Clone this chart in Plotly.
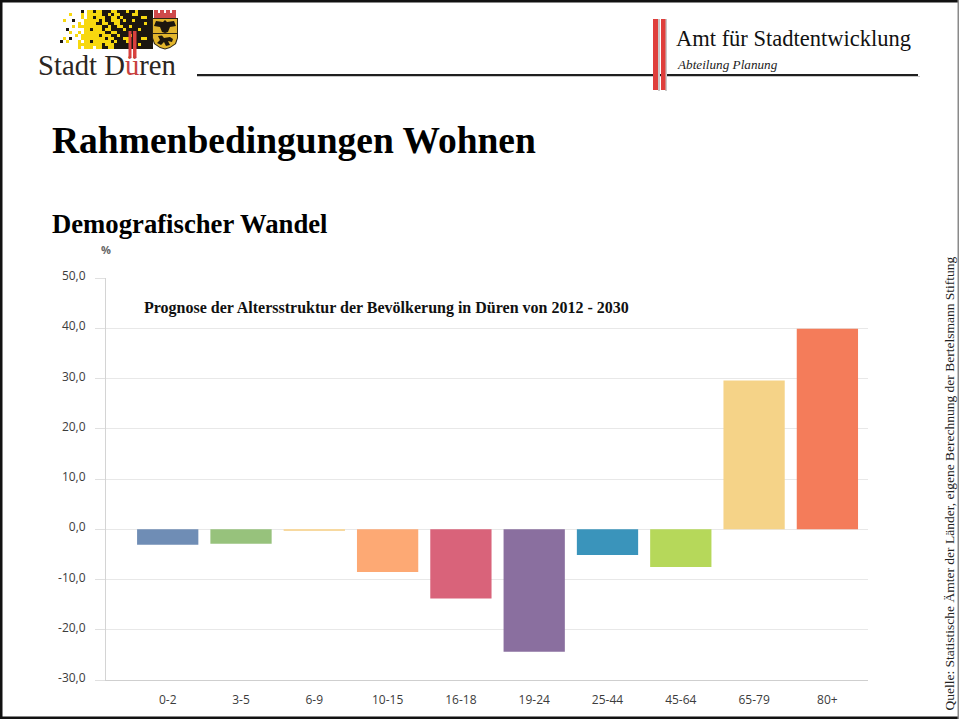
import plotly.graph_objects as go

# ---- data ----
categories = ["0-2", "3-5", "6-9", "10-15", "16-18", "19-24", "25-44", "45-64", "65-79", "80+"]
values = [-3.1, -2.9, -0.2, -8.5, -13.8, -24.4, -5.1, -7.5, 29.6, 39.9]
bar_colors = ["#6f8db5", "#97c27c", "#f7d9a0", "#fda974", "#d9637a", "#8a6f9f",
              "#3a94bb", "#b6d85a", "#f5d388", "#f47c5a"]
y_ticks = [50, 40, 30, 20, 10, 0, -10, -20, -30]
y_tick_labels = ["50,0", "40,0", "30,0", "20,0", "10,0", "0,0", "-10,0", "-20,0", "-30,0"]

W, H = 959, 719
L, R, T, B = 106, 868, 278, 680

def px(x):
    return (x - L) / (R - L)

def py(y):
    return (B - y) / (B - T)

def rect(x0, y0, x1, y1, color, layer="above"):
    return dict(type="rect", xref="paper", yref="paper", x0=px(x0), x1=px(x1),
                y0=py(y0), y1=py(y1), fillcolor=color, line_width=0, layer=layer)

def poly(points, color):
    d = "M" + " L".join(f"{px(a):.5f},{py(b):.5f}" for a, b in points) + " Z"
    return dict(type="path", xref="paper", yref="paper", path=d, fillcolor=color, line_width=0)

def label(x, y, text, size, color="#000000", family="Liberation Serif", xanchor="left",
          yanchor="middle", angle=0):
    return dict(xref="paper", yref="paper", x=px(x), y=py(y), text=text, showarrow=False,
                xanchor=xanchor, yanchor=yanchor, textangle=angle,
                font=dict(family=family, size=size, color=color), borderpad=0, borderwidth=0)

# ---- logo mosaic, one letter per 3 px cell: y yellow, k black, . empty ----
logo_rows = [
    ".......k.yykyykkkyykkkykkykkkkk",
    "...y...y.yyyyykkykyykkkkyykkkkk",
    ".......y.yykyyykkyykykkkkkkyykk",
    ".y..k...yyyyykykkyyykykkykkkkkk",
    "......y.yyyykkyykkyykkkkkkkkykk",
    "....y.yyyyyyyykkykkyykkykkkkkkk",
    "..k.....yykyyykyykkkkykkkkykkkk",
    "...y..y.yyyyyyykkyykkkkkkkkkkkk",
    ".....y.yyyyyykyyykkykkkykkkkkkk",
    ".y.k...yyyyyyyykyykkkyykkkkyykk",
    "k.y...y.yykyyyyyykykkkykkkkkkkk",
    "......yyyyyyyykyyykkkkkkkkykkkk",
    "......y.yyy.yykkyykkkkkkkkkkkkk",
]
cell_colors = {"y": "#f7d80f", "k": "#1c1710"}
shapes = []
for r, row in enumerate(logo_rows):
    for c, ch in enumerate(row):
        if ch in cell_colors:
            shapes.append(rect(60 + c * 3, 10 + r * 3, 63 + c * 3, 13 + r * 3, cell_colors[ch]))

shapes += [
    # crest
    rect(154, 13, 176, 18.5, "#cf4a4a"),
    rect(154, 10, 158, 14, "#cf4a4a"),
    rect(160, 10, 164, 14, "#cf4a4a"),
    rect(166, 10, 170, 14, "#cf4a4a"),
    rect(172, 10, 176, 14, "#cf4a4a"),
    # shield
    poly([(152, 18), (178, 18), (178, 38), (176, 44), (170, 48), (165, 49.5),
          (160, 48), (154, 44), (152, 38)], "#2b2414"),
    poly([(153, 19), (177, 19), (177, 38), (175, 43.5), (170, 47), (165, 48.5),
          (160, 47), (155, 43.5), (153, 38)], "#e2b52c"),
    # eagle
    poly([(165, 20), (167, 22), (174, 21), (176, 26), (170, 27), (168, 32), (165, 33),
          (162, 32), (160, 27), (154, 26), (156, 21), (163, 22)], "#1d170e"),
    rect(153, 33, 177, 34, "#2b2414"),
    # lion
    poly([(158, 36), (162, 35.5), (164, 38), (170, 37), (173, 39), (172, 42), (168, 41),
          (170, 45), (166, 46), (164, 42), (161, 45), (157, 43), (160, 40)], "#1d170e"),
    # red bars above the u
    rect(128.5, 31, 131.5, 58, "#d9413f"),
    rect(133, 31, 136.5, 58, "#d9413f"),
    # header rule and red bars
    rect(197, 74, 918, 76, "#1f1f1f"),
    rect(197, 76, 920, 77, "#c8c8c8"),
    rect(658, 19, 660, 91, "#c9c9c9"),
    rect(665, 19, 667, 91, "#c9c9c9"),
    rect(653, 19, 658, 90, "#df3f3c"),
    rect(661, 19, 665.5, 90, "#df3f3c"),
    # page frame
    rect(0, 0, 959, 2.5, "#111111"),
    rect(0, 716.5, 959, 719, "#111111"),
    rect(0, 0, 2.5, 719, "#111111"),
    rect(957.5, 0, 959, 719, "#8a8a8a"),
]

annotations = [
    label(38, 65, 'Stadt D<span style="color:#c8413f">ü</span>ren', 28.7, "#2b2622"),
    label(676, 38, "Amt für Stadtentwicklung", 22.5, "#111111"),
    label(677, 65, "<i>Abteilung Planung</i>", 13.2, "#222222"),
    label(52, 141, "<b>Rahmenbedingungen Wohnen</b>", 37.5),
    label(52, 224, "<b>Demografischer Wandel</b>", 26.7),
    label(144, 308, "<b>Prognose der Altersstruktur der Bevölkerung in Düren von 2012 - 2030</b>", 16, "#111111"),
    label(105.5, 249, "<b>%</b>", 11, "#666666", "Open Sans", xanchor="center"),
    label(949, 483.5, "Quelle: Statistische Ämter der Länder, eigene Berechnung der Bertelsmann Stiftung",
          13.5, "#222222", xanchor="center", angle=-90),
]

fig = go.Figure(go.Bar(x=categories, y=values, marker=dict(color=bar_colors, line_width=0),
                       width=0.836, hoverinfo="skip"))
fig.update_layout(
    width=W, height=H, margin=dict(l=L, r=W - R, t=T, b=H - B, pad=0, autoexpand=False),
    paper_bgcolor="white", plot_bgcolor="white", showlegend=False,
    shapes=shapes, annotations=annotations,
)
fig.update_xaxes(type="category", range=[-0.842, 9.554], showgrid=False, zeroline=False,
                 showline=True, linecolor="#cfcfcf", linewidth=1, ticks="", ticklabelstandoff=9,
                 tickfont=dict(family="Open Sans", size=12, color="#3c3c3c"))
fig.update_yaxes(range=[-30, 50], tickmode="array", tickvals=y_ticks, ticktext=y_tick_labels,
                 showgrid=True, gridcolor="#e8e8e8", gridwidth=1, zeroline=False,
                 showline=True, linecolor="#d4d4d4", linewidth=1,
                 ticks="outside", ticklen=10, tickwidth=1, tickcolor="#e0e0e0",
                 ticklabelstandoff=7, ticklabelshift=-2,
                 tickfont=dict(family="Open Sans", size=12, color="#3c3c3c"))

fig.write_html("out.html", config={"displayModeBar": False},
               post_script="document.body.style.margin='0';document.body.style.overflow='hidden';")
